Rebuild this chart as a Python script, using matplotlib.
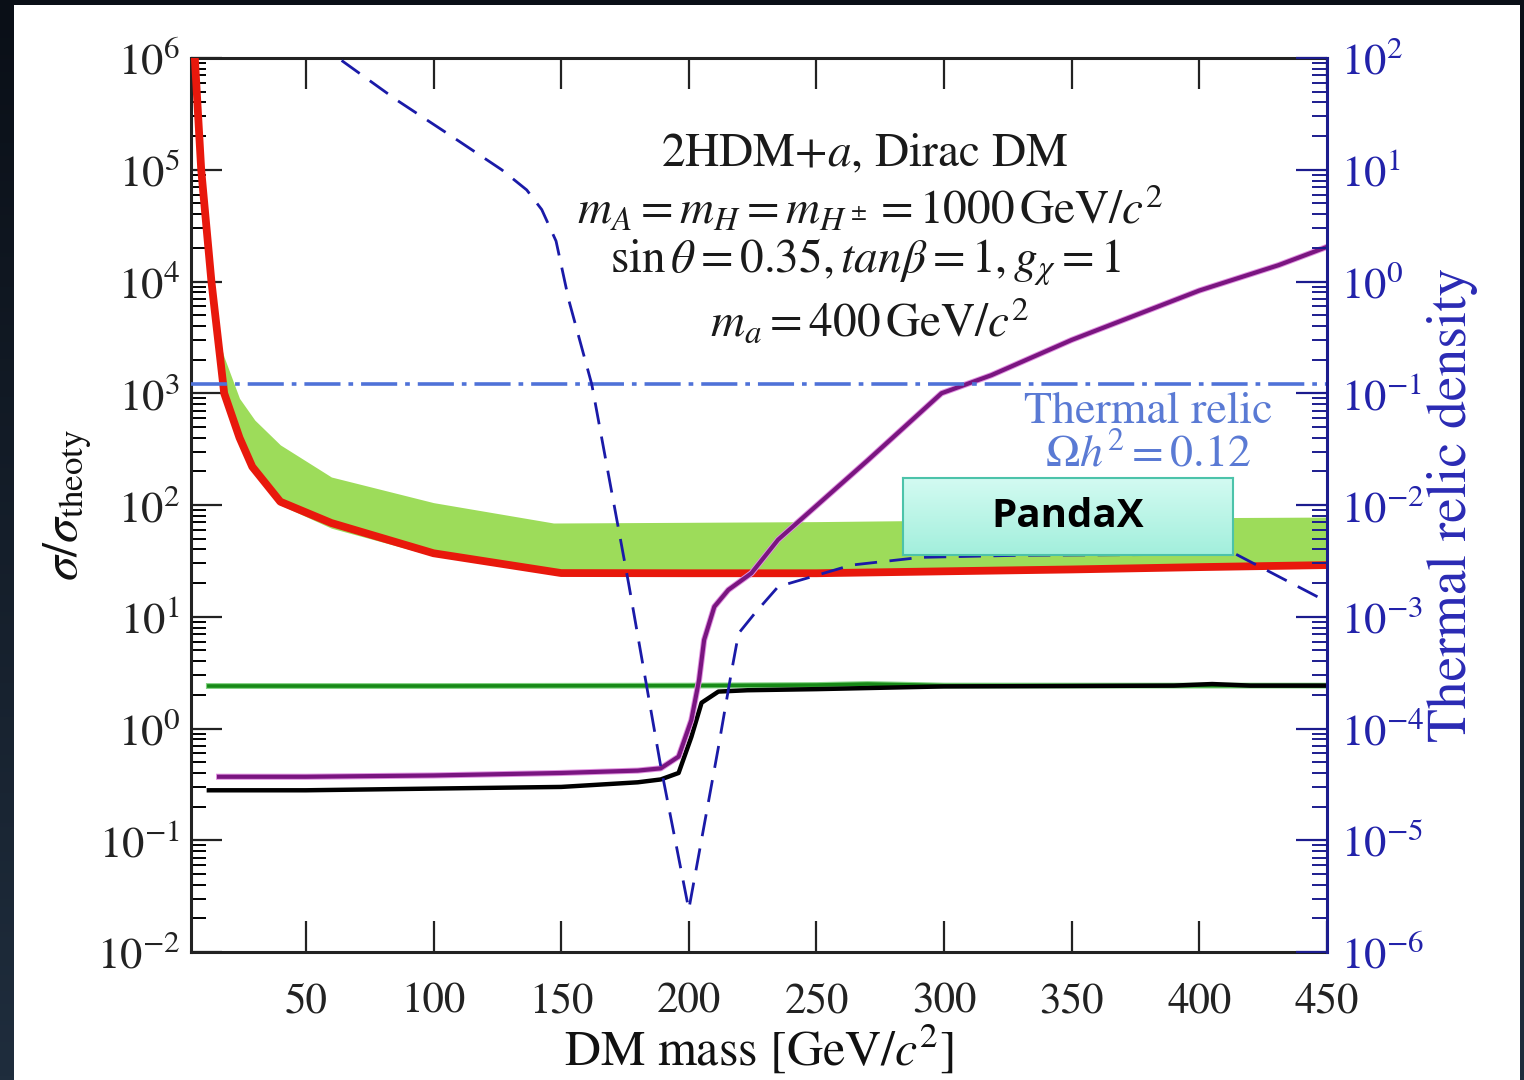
import numpy as np
import matplotlib
matplotlib.use("Agg")
import matplotlib.pyplot as plt
from matplotlib.ticker import LogLocator, NullFormatter, FixedLocator, NullLocator
from matplotlib.colors import LinearSegmentedColormap

plt.rcParams["font.family"] = ["STIXGeneral", "DejaVu Serif"]
plt.rcParams["mathtext.fontset"] = "stix"

# ---- exclusion limits (left axis: sigma / sigma_theory) ----
mass_red = [6.5, 9, 13, 18, 24, 29, 40, 60, 100, 150, 200, 250, 300, 350, 400, 450]
limit_red = [1e6, 1e5, 1e4, 1000, 400, 220, 107, 69, 37, 24.6, 24.5, 24.5, 25.5, 26.5, 27.8, 29]

mass_band = [16, 18, 24, 30, 40, 60, 100, 147, 200, 250, 300, 350, 400, 450]
band_upper = [3000, 2100, 900, 575, 345, 178, 105, 69, 70, 71, 73, 75, 77, 78]
band_lower = [2000, 1000, 390, 210, 100, 62, 35, 24, 24, 24, 25, 26, 27, 28.5]

mass_green = [12, 100, 200, 250, 270, 290, 300, 450]
limit_green = [2.4, 2.4, 2.42, 2.45, 2.5, 2.45, 2.42, 2.42]

mass_black = [12, 50, 100, 150, 180, 189, 196, 201, 205, 211.6, 223, 250, 300, 350,
              390, 405, 420, 450]
limit_black = [0.28, 0.28, 0.29, 0.30, 0.33, 0.35, 0.40, 0.84, 1.7, 2.14, 2.2, 2.25,
               2.38, 2.4, 2.42, 2.5, 2.42, 2.42]

mass_purple = [16, 50, 100, 150, 180, 189, 196, 201, 204, 206, 210, 215.5, 224.5, 235,
               270, 299, 318.5, 350, 400, 431, 450]
limit_purple = [0.37, 0.37, 0.38, 0.40, 0.42, 0.44, 0.56, 1.19, 2.7, 6.2, 12.3, 17.4,
                24.5, 49, 250, 1000, 1450, 3000, 8300, 14000, 20400]

# ---- relic density (right axis) ----
mass_relic = [64, 85.6, 107, 126.7, 136.5, 142.4, 148, 153, 162, 176.4, 189, 200, 211.6,
              216.7, 219.5, 225.8, 235, 263.7, 291, 330, 380, 413.6, 446.5, 450]
relic = [95, 42, 20, 10, 6.6, 4.4, 2.3, 0.68, 0.12, 2.0e-3, 4.6e-5, 2.4e-6, 6.8e-5,
         3.2e-4, 7.1e-4, 1.07e-3, 1.86e-3, 2.9e-3, 3.4e-3, 3.55e-3, 3.6e-3, 3.7e-3,
         1.5e-3, 1.38e-3]
relic_target = 0.12

x_ticks = [50, 100, 150, 200, 250, 300, 350, 400, 450]

W, H = 1524, 1080
fig = plt.figure(figsize=(W / 100, H / 100), dpi=100)

# dark frame with a vertical gradient, white panel on top
bg = fig.add_axes([0, 0, 1, 1], zorder=-10)
grad = np.linspace(0, 1, 256).reshape(-1, 1)
frame_cmap = LinearSegmentedColormap.from_list("frame", ["#0a0f17", "#1f2d3d"])
bg.imshow(grad, aspect="auto", cmap=frame_cmap, extent=[0, 1, 0, 1], origin="upper")
bg.add_patch(plt.Rectangle((14 / W, 0), (1520 - 14) / W, 1 - 5 / H,
                           transform=bg.transAxes, facecolor="white", edgecolor="none"))
bg.set_axis_off()

navy = "#1c1c8e"
ax = fig.add_axes([191 / W, 1 - 952 / H, (1327 - 191) / W, (952 - 58) / H])
ax.set_facecolor("none")
ax.set_xlim(5, 450)
ax.set_yscale("log")
ax.set_ylim(1e-2, 1e6)

ax.fill_between(mass_band, band_lower, band_upper, color="#9ddc5a", lw=0, zorder=1)
ax.plot(mass_red, limit_red, color="#e8180c", lw=5.6, zorder=3, solid_joinstyle="round")
ax.plot(mass_green, limit_green, color="#7fd07f", lw=4.2, zorder=3)
ax.plot(mass_green, limit_green, color="#178a17", lw=2.6, zorder=3)
ax.plot(mass_black, limit_black, color="black", lw=3.2, zorder=4)
ax.plot(mass_purple, limit_purple, color="#e090e0", lw=4.4, zorder=4)
ax.plot(mass_purple, limit_purple, color="#7a1580", lw=3.0, zorder=4)

ax.xaxis.set_major_locator(FixedLocator(x_ticks))
ax.xaxis.set_minor_locator(NullLocator())
ax.yaxis.set_major_locator(LogLocator(base=10, numticks=20))
ax.yaxis.set_minor_locator(LogLocator(base=10, subs=np.arange(2, 10), numticks=20))
ax.yaxis.set_minor_formatter(NullFormatter())
ax.tick_params(axis="x", which="major", direction="in", top=True, bottom=True,
               length=22, width=1.6, labelsize=31, pad=22, colors="#222222")
ax.tick_params(axis="y", which="major", direction="in", left=True, right=False,
               length=22, width=1.6, labelsize=32, pad=8, colors="#222222")
ax.tick_params(axis="y", which="minor", direction="in", left=True, right=False,
               length=11, width=1.4)
for s in ["left", "bottom", "top"]:
    ax.spines[s].set_linewidth(2.2)
    ax.spines[s].set_color("#222222")
ax.spines["right"].set_visible(False)

ax.set_xlabel(r"DM mass [GeV/$c^2$]", fontsize=36, labelpad=1, color="#111111")
ax.set_ylabel(r"$\sigma/\sigma_{\mathrm{theoty}}$", fontsize=36, labelpad=2,
              color="#111111")

ax2 = ax.twinx()
ax2.set_yscale("log")
ax2.set_ylim(1e-6, 1e2)
ax2.axhline(relic_target, color="#4f72d8", lw=2.6,
            linestyle=(0, (10, 2.2, 1.3, 2.2)), zorder=2)
ax2.plot(mass_relic, relic, color="#1a1aa8", lw=2.0, linestyle=(0, (8, 4.5)), zorder=5)
ax2.yaxis.set_major_locator(LogLocator(base=10, numticks=20))
ax2.yaxis.set_minor_locator(LogLocator(base=10, subs=np.arange(2, 10), numticks=20))
ax2.yaxis.set_minor_formatter(NullFormatter())
ax2.tick_params(axis="y", which="major", direction="in", right=True, length=22, width=1.6,
                labelsize=32, pad=10, colors=navy, labelcolor="#2222aa")
ax2.tick_params(axis="y", which="minor", direction="in", right=True, length=11, width=1.4,
                colors=navy)
ax2.spines["right"].set_color(navy)
ax2.spines["right"].set_linewidth(2.2)
for s in ["left", "bottom", "top"]:
    ax2.spines[s].set_visible(False)
ax2.set_ylabel("Thermal relic density", fontsize=40, color="#2a2ab4", labelpad=2)

# benchmark description
txt_kw = dict(transform=fig.transFigure, ha="center", va="center", color="#1a1a1a",
              fontsize=34)
fig.text(865 / W, 1 - 155 / H, r"2HDM+$a$, Dirac DM", **txt_kw)
fig.text(870 / W, 1 - 210 / H,
         r"$m_A = m_H = m_{H^\pm} = 1000\,\mathrm{GeV}/c^2$", **txt_kw)
fig.text(865 / W, 1 - 262 / H,
         r"$\sin\theta = 0.35, \mathit{tan}\beta = 1, g_\chi = 1$", **txt_kw)
fig.text(870 / W, 1 - 322 / H, r"$m_a = 400\,\mathrm{GeV}/c^2$", **txt_kw)

fig.text(1148 / W, 1 - 412 / H, "Thermal relic", transform=fig.transFigure,
         ha="center", va="center", color="#5a7ad4", fontsize=33)
fig.text(1148 / W, 1 - 455 / H, r"$\Omega h^2 = 0.12$", transform=fig.transFigure,
         ha="center", va="center", color="#5a7ad4", fontsize=33)

# PandaX label box
bx = fig.add_axes([903 / W, 1 - 555 / H, 330 / W, 77 / H], zorder=10)
box_cmap = LinearSegmentedColormap.from_list("box", ["#d4fbf2", "#a2efdc"])
bx.imshow(grad, aspect="auto", cmap=box_cmap, extent=[0, 1, 0, 1], origin="upper")
bx.set_xticks([])
bx.set_yticks([])
for s in bx.spines.values():
    s.set_color("#4cc3aa")
    s.set_linewidth(1.5)
bx.text(0.5, 0.5, "PandaX", transform=bx.transAxes, ha="center", va="center",
        fontsize=29, fontweight="bold", family=["Open Sans", "DejaVu Sans"], color="black")

fig.savefig("out.png", dpi=100)
